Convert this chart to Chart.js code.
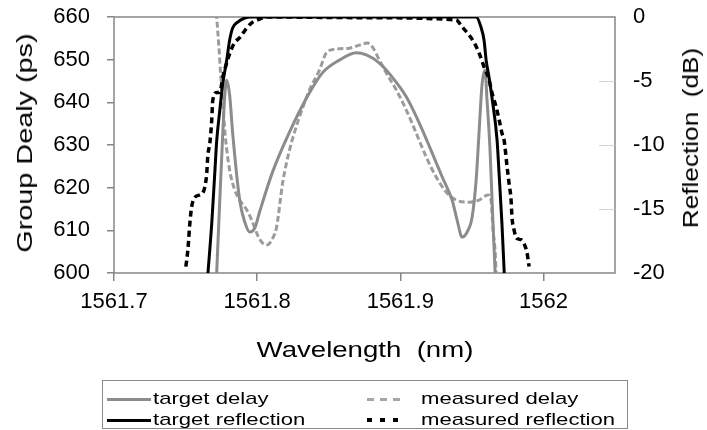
<!DOCTYPE html>
<html>
<head>
<meta charset="utf-8">
<script src="https://cdn.jsdelivr.net/npm/chart.js@4.4.1/dist/chart.umd.min.js"></script>
<style>
  body { margin: 0; background: #fff; font-family: "Liberation Sans", Arial, sans-serif; }
  #wrap { position: relative; width: 707px; height: 430px; overflow: hidden; }
  .t { position: absolute; width: 0; height: 0; }
  .t span { position: absolute; left: 0; top: 0; white-space: pre; font-size: 22px; line-height: 22px; transform-origin: 0 0; color: #000; }
  #legend { position: absolute; left: 102px; top: 380px; width: 524px; height: 47px; border: 1px solid #8a8a8a; }
  #legend .txt { position: absolute; font-size: 17px; line-height: 17px; white-space: pre; transform: scaleX(1.3); transform-origin: 0 0; color: #000; }
  #legend .smp { position: absolute; }
</style>
</head>
<body>
<div id="wrap">
  <canvas id="chart" width="707" height="430"></canvas>
  <div class="t" style="left:365px;top:350px"><span data-len="217" data-rot="0">Wavelength  (nm)</span></div>
  <div class="t" style="left:25px;top:143px"><span data-len="220" data-rot="-90">Group Dealy (ps)</span></div>
  <div class="t" style="left:691px;top:138px"><span data-len="181" data-rot="-90">Reflection  (dB)</span></div>
  <div id="legend">
    <div class="smp" style="left:4px;top:17px;width:44px;height:3px;background:#8c8c8c"></div>
    <div class="txt" style="left:50px;top:9px">target delay</div>
    <div class="smp" style="left:4px;top:38px;width:44px;height:3px;background:#000"></div>
    <div class="txt" style="left:50px;top:30px">target reflection</div>
    <div class="smp" style="left:264px;top:17px;width:34px;height:3px;background:repeating-linear-gradient(to right,#a6a6a6 0 7px,transparent 7px 13px)"></div>
    <div class="txt" style="left:318px;top:9px">measured delay</div>
    <div class="smp" style="left:264px;top:37px;width:34px;height:4px;background:repeating-linear-gradient(to right,#000 0 5px,transparent 5px 13px)"></div>
    <div class="txt" style="left:318px;top:30px">measured reflection</div>
  </div>
</div>
<script>
// axis ticks
const xTicks = [1561.7, 1561.8, 1561.9, 1562];
const xTickLabels = ['1561.7', '1561.8', '1561.9', '1562'];
const delayTicks = [600, 610, 620, 630, 640, 650, 660];
const reflTicks = [-20, -15, -10, -5, 0];

// target delay (ps)
const targetDelayWl = [1561.7716, 1561.7739, 1561.776, 1561.7774, 1561.7787, 1561.7808, 1561.7829, 1561.7878, 1561.7913, 1561.7948,
  1561.7983, 1561.8017, 1561.8108, 1561.8226, 1561.8345, 1561.8456, 1561.8575, 1561.8693, 1561.8763, 1561.8854,
  1561.8944, 1561.9042, 1561.9132, 1561.9223, 1561.9293, 1561.9362, 1561.9397, 1561.9432, 1561.9467, 1561.9502,
  1561.953, 1561.955, 1561.9571, 1561.9592, 1561.9606, 1561.9627, 1561.9641, 1561.9664];
const targetDelayPs = [599, 617.1, 632.8, 641.7, 645.2, 641.7, 632.8, 617.1, 612, 609.6,
  610.5, 614.3, 623.7, 633, 641, 646.9, 649.9, 651.6, 651.1, 649.2,
  645.9, 641.3, 635.2, 628.1, 622.5, 617.1, 612.4, 608.4, 609.6, 613.1,
  621.8, 632.8, 644.1, 647.6, 640.5, 628.8, 617.1, 599];

// measured delay (ps)
const measuredDelayWl = [1561.7715, 1561.7732, 1561.7746, 1561.776, 1561.778, 1561.7808, 1561.7843, 1561.7878, 1561.7927, 1561.7962,
  1561.8003, 1561.8038, 1561.8073, 1561.8101, 1561.8136, 1561.8178, 1561.8226, 1561.8296, 1561.8366, 1561.8436,
  1561.8484, 1561.8554, 1561.8645, 1561.8714, 1561.877, 1561.8805, 1561.8854, 1561.8902, 1561.8972, 1561.9042,
  1561.9111, 1561.9181, 1561.9251, 1561.932, 1561.939, 1561.9481, 1561.955, 1561.9613, 1561.9634, 1561.9648,
  1561.9662, 1561.9671];
const measuredDelayPs = [661, 653.4, 646, 639.4, 631.2, 624.1, 619.5, 617.1, 614.8, 612.4,
  608.9, 607, 606.6, 607.7, 610.8, 621.1, 628.8, 636.6, 642.9, 647.6,
  651.6, 652.5, 652.7, 653.4, 653.9, 653, 649.9, 646.9, 642.9, 638.2,
  632.8, 627.2, 622.5, 619, 617.1, 616.6, 617.1, 618.3, 617.1, 610,
  605.4, 599];

// target reflection (dB)
const targetReflWl = [1561.7655, 1561.7683, 1561.7704, 1561.7718, 1561.7739, 1561.776, 1561.7787, 1561.7808, 1561.7829, 1561.7864,
  1561.7913, 1561.796, 1561.87, 1561.953, 1561.9564, 1561.9585, 1561.96, 1561.962, 1561.964, 1561.9676,
  1561.969, 1561.971, 1561.9727];
const targetReflDb = [-20.2, -16.1, -12.2, -9.6, -7.3, -5.2, -3.4, -1.8, -0.86, -0.4,
  -0.08, 0, 0, 0, -0.8, -1.8, -3.4, -4.7, -6.25, -9.6,
  -12.2, -16.1, -20.2];

// measured reflection (dB)
const measuredReflWl = [1561.7502, 1561.7516, 1561.753, 1561.7543, 1561.7564, 1561.76, 1561.762, 1561.7634, 1561.7648, 1561.7655,
  1561.767, 1561.7683, 1561.769, 1561.7718, 1561.7739, 1561.776, 1561.7787, 1561.781, 1561.7843, 1561.788,
  1561.7927, 1561.796, 1561.8003, 1561.8066, 1561.87, 1561.939, 1561.9432, 1561.948, 1561.9516, 1561.955,
  1561.9585, 1561.962, 1561.964, 1561.9669, 1561.969, 1561.9711, 1561.9725, 1561.9746, 1561.976, 1561.9774,
  1561.978, 1561.9794, 1561.9815, 1561.9843, 1561.9864, 1561.9885, 1561.99];
const measuredReflDb = [-19.5, -18.2, -16.1, -14.8, -14.1, -13.9, -13.75, -13.3, -12.2, -10.9,
  -9.8, -8.0, -6.5, -5.9, -5.9, -4.7, -3.6, -2.8, -2.0, -1.6,
  -0.86, -0.47, -0.23, 0, -0.05, -0.23, -0.78, -1.4, -2.0, -2.8,
  -3.9, -4.9, -5.9, -7.0, -8.0, -9.1, -9.6, -11.7, -13.0, -14.3,
  -15.6, -16.6, -17.3, -17.4, -17.7, -18.4, -19.5];

const axisGray = '#868686';
const tickFont = { family: '"Liberation Sans", Arial, sans-serif', size: 22 };

function toPoints(xs, ys) {
    return xs.map((x, i) => ({ x: x, y: ys[i] }));
}

// fixed axis sizes so the plot area sits where it does in the picture
function fitVertical(width) {
    return s => {
        s.width = width;
        s.paddingTop = 0;
        s.paddingBottom = 0;
    };
}

// gray frame round the plot area plus faint inner ticks on the right axis
const framePlugin = {
    id: 'frame',
    beforeDatasetsDraw(chart) {
        const ctx = chart.ctx;
        const a = chart.chartArea;
        ctx.save();
        ctx.strokeStyle = axisGray;
        ctx.lineWidth = 1.5;
        ctx.strokeRect(a.left, a.top, a.right - a.left, a.bottom - a.top);
        const y1 = chart.scales.y1;
        ctx.strokeStyle = '#d4d4d4';
        ctx.lineWidth = 1;
        reflTicks.slice(1, -1).forEach(v => {
            const py = Math.round(y1.getPixelForValue(v)) + 0.5;
            ctx.beginPath();
            ctx.moveTo(a.right - 16, py);
            ctx.lineTo(a.right, py);
            ctx.stroke();
        });
        ctx.restore();
    }
};

new Chart(document.getElementById('chart'), {
    type: 'line',
    data: {
        datasets: [
            {
                label: 'target reflection',
                data: toPoints(targetReflWl, targetReflDb),
                yAxisID: 'y1',
                borderColor: '#000',
                borderWidth: 3
            },
            {
                label: 'measured reflection',
                data: toPoints(measuredReflWl, measuredReflDb),
                yAxisID: 'y1',
                borderColor: '#000',
                borderWidth: 3.5,
                borderDash: [6, 4]
            },
            {
                label: 'target delay',
                data: toPoints(targetDelayWl, targetDelayPs),
                yAxisID: 'y',
                borderColor: '#8c8c8c',
                borderWidth: 3
            },
            {
                label: 'measured delay',
                data: toPoints(measuredDelayWl, measuredDelayPs),
                yAxisID: 'y',
                borderColor: '#9c9c9c',
                borderWidth: 3,
                borderDash: [6, 3]
            }
        ]
    },
    options: {
        responsive: false,
        animation: false,
        layout: { padding: { top: 17, left: 0, right: 0, bottom: 0 } },
        elements: {
            point: { radius: 0 },
            line: { cubicInterpolationMode: 'monotone', fill: false }
        },
        plugins: {
            legend: { display: false },
            tooltip: { enabled: false }
        },
        scales: {
            x: {
                type: 'linear',
                min: 1561.7,
                max: 1562.05,
                afterBuildTicks: s => { s.ticks = xTicks.map(v => ({ value: v })); },
                afterFit: s => { s.height = 157; },
                border: { display: false },
                grid: { drawOnChartArea: false, tickLength: 8, color: axisGray, lineWidth: 1.5 },
                ticks: {
                    autoSkip: false,
                    maxRotation: 0,
                    padding: 8,
                    color: '#000',
                    font: tickFont,
                    callback: (v, i) => xTickLabels[i]
                }
            },
            y: {
                position: 'left',
                min: 600,
                max: 660,
                afterBuildTicks: s => { s.ticks = delayTicks.map(v => ({ value: v })); },
                afterFit: fitVertical(114),
                border: { display: false },
                grid: { drawOnChartArea: false, tickLength: 7, color: axisGray, lineWidth: 1.5 },
                ticks: { padding: 17, color: '#000', font: tickFont }
            },
            y1: {
                position: 'right',
                min: -20,
                max: 0,
                afterBuildTicks: s => { s.ticks = reflTicks.map(v => ({ value: v })); },
                afterFit: fitVertical(92),
                border: { display: false },
                grid: { drawOnChartArea: false, drawTicks: false },
                ticks: { padding: 18, color: '#000', font: tickFont }
            }
        }
    },
    plugins: [framePlugin]
});

// stretch the HTML axis titles to the lengths seen in the picture
document.querySelectorAll('.t span').forEach(el => {
    const k = Number(el.dataset.len) / el.offsetWidth;
    el.style.transform = `rotate(${el.dataset.rot}deg) scaleX(${k}) translate(-50%, -50%)`;
});
</script>
</body>
</html>
